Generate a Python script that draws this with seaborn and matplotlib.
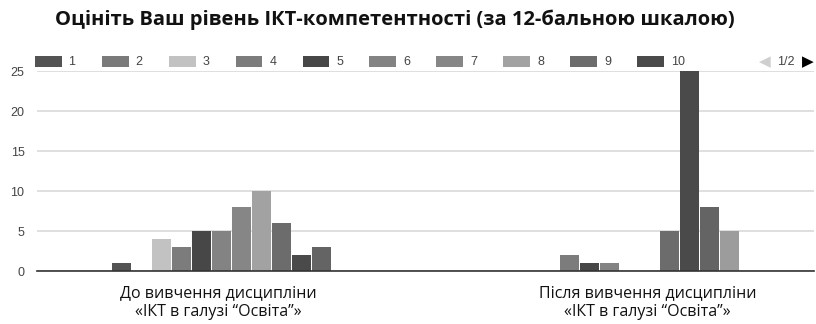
import matplotlib
matplotlib.use("Agg")
import matplotlib.pyplot as plt
from matplotlib.patches import Patch
import pandas as pd
import seaborn as sns

# data
groups = ["До вивчення дисципліни\n«ІКТ в галузі “Освіта”»",
          "Після вивчення дисципліни\n«ІКТ в галузі “Освіта”»"]
scores = [str(i) for i in range(1, 13)]
before = [1, 0, 4, 3, 5, 5, 8, 10, 6, 2, 3, 0]
after = [0, 0, 0, 2, 1, 1, 0, 0, 5, 25, 8, 5]
greys = ["#535353", "#7a7a7a", "#c2c2c2", "#7c7c7c", "#474747", "#838383",
         "#868686", "#a2a2a2", "#6c6c6c", "#4a4a4a", "#646464", "#9c9c9c"]
title = "Оцініть Ваш рівень ІКТ-компетентності (за 12-бальною шкалою)"

df = pd.DataFrame({
    "group": [groups[0]] * 12 + [groups[1]] * 12,
    "score": scores * 2,
    "value": before + after,
})

sns.set_style("white")
plt.rcParams["font.family"] = ["Liberation Sans", "DejaVu Sans"]

fig = plt.figure(figsize=(8.16, 3.24), dpi=100)
ax = fig.add_axes([37 / 816, 1 - 271 / 324, 777 / 816, 200 / 324])

sns.barplot(data=df, x="group", y="value", hue="score", hue_order=scores,
            palette=greys, width=0.617, gap=0.05, linewidth=0,
            legend=False, ax=ax)

ax.set_xlim(-0.5, 1.5)
ax.set_ylim(0, 25.05)
ax.set_yticks([0, 5, 10, 15, 20, 25])
ax.yaxis.grid(True, color="#dcdcdc", linewidth=1.3)
ax.set_axisbelow(True)
for side in ["top", "right", "left"]:
    ax.spines[side].set_visible(False)
ax.spines["bottom"].set_color("#333333")
ax.spines["bottom"].set_linewidth(1.2)
ax.tick_params(axis="y", length=0, pad=9, labelsize=9, labelcolor="#444444")
ax.tick_params(axis="x", length=0, pad=10)
ax.set_xticks([-0.033, 1.072])
ax.set_xticklabels(groups, fontfamily="Open Sans", fontsize=11.5,
                   color="#111111", linespacing=1.25)
ax.set_xlabel("")
ax.set_ylabel("")

handles = [Patch(facecolor=greys[i], edgecolor="none") for i in range(10)]
ax.legend(handles, scores[:10], ncol=10, loc="center left",
          bbox_to_anchor=(-0.003, 1.045), frameon=False, fontsize=9,
          handlelength=2.15, handleheight=1.0, handletextpad=0.55,
          columnspacing=2.1, borderaxespad=0, borderpad=0,
          labelcolor="#444444")

fig.text(765 / 816, 1 - 62 / 324, "◀", color="#cfcfcf", fontsize=11,
         ha="center", va="center", family="DejaVu Sans")
fig.text(786 / 816, 1 - 62 / 324, "1/2", color="#444444", fontsize=9,
         ha="center", va="center")
fig.text(808 / 816, 1 - 62 / 324, "▶", color="#000000", fontsize=11,
         ha="center", va="center", family="DejaVu Sans")

fig.text(395 / 816, 1 - 20 / 324, title, fontfamily="Open Sans",
         fontweight="bold", fontsize=14.5, ha="center", va="center",
         color="#111111")

fig.savefig("out.png", dpi=100)
